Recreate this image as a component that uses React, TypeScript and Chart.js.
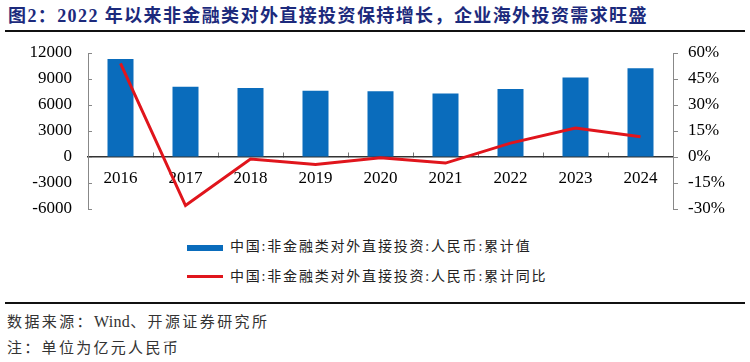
import React, { useEffect, useRef } from "react";
import { Chart, registerables } from "chart.js";

Chart.register(...registerables);

const categories = ["2016", "2017", "2018", "2019", "2020", "2021", "2022", "2023", "2024"];
const cumulativeValue = [11299, 8108, 7974, 7630, 7598, 7332, 7859, 9170, 10239];
const cumulativeYoY = [54.0, -28.0, -1.2, -4.3, -0.4, -3.5, 8.0, 16.7, 11.7];
const leftTicks = [-6000, -3000, 0, 3000, 6000, 9000, 12000];
const rightTicks = [-30, -15, 0, 15, 30, 45, 60];

const TITLE = "图2：2022 年以来非金融类对外直接投资保持增长，企业海外投资需求旺盛";
const BAR_LABEL = "中国:非金融类对外直接投资:人民币:累计值";
const LINE_LABEL = "中国:非金融类对外直接投资:人民币:累计同比";
const SOURCE_A = "数据来源：";
const SOURCE_B = "Wind";
const SOURCE_C = "、开源证券研究所";
const NOTE = "注：单位为亿元人民币";

const BLUE = "#0A6CBC";
const RED = "#E0151C";
const AXIS_GREY = "#888888";
const SERIF = '"Liberation Serif", "Noto Sans CJK SC", serif';

// draws the short y-axis tick marks (inward on the left axis, outward on the right one)
const axisTickMarks = {
  id: "axisTickMarks",
  afterDraw(chart: any) {
    const { ctx, scales } = chart;
    const yl = scales.y;
    const yr = scales.y1;
    ctx.save();
    ctx.strokeStyle = AXIS_GREY;
    ctx.lineWidth = 1;
    ctx.beginPath();
    leftTicks.forEach((v) => {
      const py = Math.round(yl.getPixelForValue(v)) + 0.5;
      ctx.moveTo(yl.right, py);
      ctx.lineTo(yl.right + 4, py);
    });
    rightTicks.forEach((v) => {
      const py = Math.round(yr.getPixelForValue(v)) + 0.5;
      ctx.moveTo(yr.left, py);
      ctx.lineTo(yr.left + 5, py);
    });
    ctx.stroke();
    ctx.restore();
  },
};

export default function App() {
  const ref = useRef<HTMLCanvasElement | null>(null);

  useEffect(() => {
    if (!ref.current) return;
    const chart = new Chart(ref.current, {
      type: "bar",
      data: {
        labels: categories,
        datasets: [
          {
            type: "line",
            label: LINE_LABEL,
            data: cumulativeYoY,
            yAxisID: "y1",
            borderColor: RED,
            backgroundColor: RED,
            borderWidth: 3,
            pointRadius: 0,
            tension: 0,
            order: 0,
          },
          {
            type: "bar",
            label: BAR_LABEL,
            data: cumulativeValue,
            yAxisID: "y",
            backgroundColor: BLUE,
            barPercentage: 0.4,
            categoryPercentage: 1,
            order: 1,
          },
        ],
      },
      plugins: [axisTickMarks],
      options: {
        responsive: false,
        animation: false,
        devicePixelRatio: 1,
        layout: { padding: { top: 18, bottom: 16, left: 0, right: 0 } },
        plugins: { legend: { display: false }, tooltip: { enabled: false } },
        scales: {
          x: {
            position: { y: 0 } as any,
            offset: true,
            grid: {
              offset: true,
              drawOnChartArea: false,
              drawTicks: true,
              tickLength: -5,
              color: "#777777",
              lineWidth: 1,
            },
            border: { display: true, color: "#333333", width: 1.5 },
            ticks: {
              padding: 16,
              color: "#000000",
              font: { family: SERIF, size: 17 },
              maxRotation: 0,
              autoSkip: false,
            },
          },
          y: {
            position: "left",
            min: -6000,
            max: 12000,
            afterFit: (s: any) => {
              s.width = 88;
            },
            afterBuildTicks: (s: any) => {
              s.ticks = leftTicks.map((v) => ({ value: v }));
            },
            grid: {
              drawOnChartArea: false,
              drawTicks: true,
              tickLength: 16,
              color: "rgba(0,0,0,0)",
            },
            border: { display: true, color: AXIS_GREY, width: 1 },
            ticks: {
              padding: 0,
              color: "#000000",
              autoSkip: false,
              font: { family: SERIF, size: 17 },
              callback: (v: any) => String(v),
            },
          },
          y1: {
            position: "right",
            min: -30,
            max: 60,
            afterFit: (s: any) => {
              s.width = 77;
            },
            afterBuildTicks: (s: any) => {
              s.ticks = rightTicks.map((v) => ({ value: v }));
            },
            grid: {
              drawOnChartArea: false,
              drawTicks: true,
              tickLength: 15,
              color: "rgba(0,0,0,0)",
            },
            border: { display: true, color: AXIS_GREY, width: 1 },
            ticks: {
              padding: 0,
              color: "#000000",
              autoSkip: false,
              font: { family: SERIF, size: 17 },
              callback: (v: any) => `${v}%`,
            },
          },
        },
      },
    });
    return () => chart.destroy();
  }, []);

  const textCJK: React.CSSProperties = {
    position: "absolute",
    fontFamily: SERIF,
    whiteSpace: "nowrap",
  };

  return (
    <div
      style={{
        position: "absolute",
        left: 0,
        top: 0,
        width: 750,
        height: 362,
        background: "#ffffff",
        overflow: "hidden",
      }}
    >
      <div
        style={{
          ...textCJK,
          left: 8,
          top: 5,
          fontSize: 18,
          fontWeight: 700,
          letterSpacing: 1.4,
          color: "#1C2A7C",
          lineHeight: "22px",
        }}
      >
        {TITLE}
      </div>
      <div style={{ position: "absolute", left: 5, top: 30, width: 740, height: 2, background: "#111111" }} />
      <canvas
        ref={ref}
        width={750}
        height={190}
        style={{ position: "absolute", left: 0, top: 35, width: 750, height: 190 }}
      />
      <div style={{ position: "absolute", left: 187, top: 245, width: 36, height: 6, background: BLUE }} />
      <div
        style={{ ...textCJK, left: 230, top: 238, fontSize: 14, letterSpacing: 1.8, color: "#222222", lineHeight: "18px" }}
      >
        {BAR_LABEL}
      </div>
      <div style={{ position: "absolute", left: 187, top: 275, width: 36, height: 3, background: RED }} />
      <div
        style={{ ...textCJK, left: 230, top: 268, fontSize: 14, letterSpacing: 1.8, color: "#222222", lineHeight: "18px" }}
      >
        {LINE_LABEL}
      </div>
      <div style={{ position: "absolute", left: 5, top: 302, width: 740, height: 1.5, background: "#111111" }} />
      <div
        style={{ ...textCJK, left: 7, top: 312, fontSize: 15, letterSpacing: 2.4, color: "#333333", lineHeight: "20px" }}
      >
        {SOURCE_A}
        <span style={{ fontSize: 16, letterSpacing: 0.3 }}>{SOURCE_B}</span>
        {SOURCE_C}
      </div>
      <div
        style={{ ...textCJK, left: 7, top: 338, fontSize: 15, letterSpacing: 2.3, color: "#333333", lineHeight: "20px" }}
      >
        {NOTE}
      </div>
    </div>
  );
}
